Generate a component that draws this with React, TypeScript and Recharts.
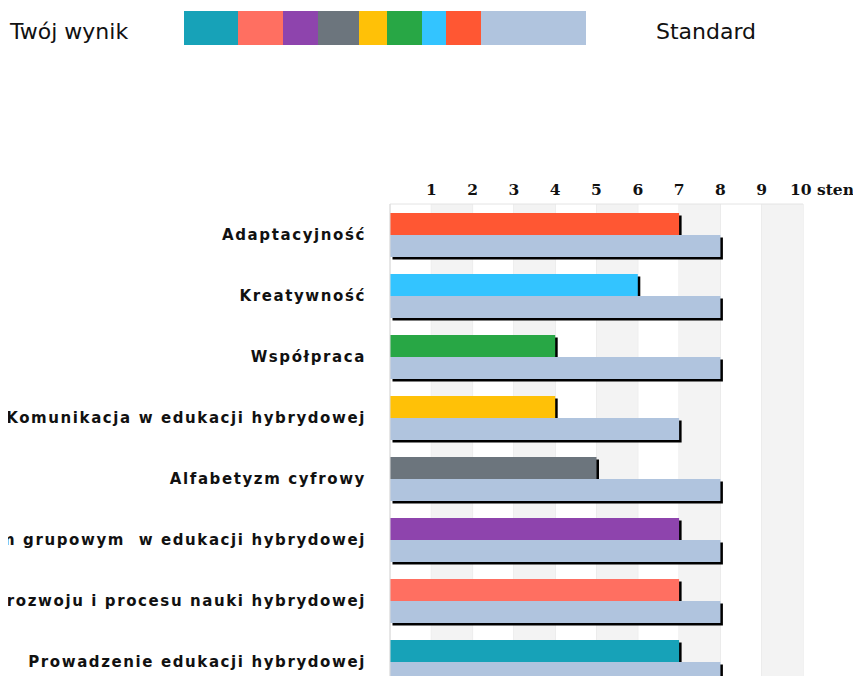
import { BarChart, Bar, XAxis, YAxis, CartesianGrid, ReferenceArea, Cell } from 'recharts';

const categories = [
  'Adaptacyjność',
  'Kreatywność',
  'Współpraca',
  'Komunikacja w edukacji hybrydowej',
  'Alfabetyzm cyfrowy',
  'Zarządzanie procesem grupowym  w edukacji hybrydowej',
  'Wspieranie rozwoju i procesu nauki hybrydowej',
  'Prowadzenie edukacji hybrydowej'
];
const wynik = [7, 6, 4, 4, 5, 7, 7, 7];
const standard = [8, 8, 8, 7, 8, 8, 8, 8];
const tickValues = [1, 2, 3, 4, 5, 6, 7, 8, 9, 10];
const tickLabels = ['1', '2', '3', '4', '5', '6', '7', '8', '9', '10 sten'];
const shadedBands = [[1, 2], [3, 4], [5, 6], [7, 8], [9, 10]];

const barColors = ['#ff5733', '#33c4ff', '#28a745', '#ffc107', '#6c757d', '#8e44ad', '#ff6f61', '#17a2b8'];
const standardColor = '#b0c4de';

const data = categories.map((name, i) => ({ name, wynik: wynik[i], standard: standard[i] }));

// legend strip: colours bottom-to-top, then standard
const legendSwatches = [
  { color: '#17a2b8', w: 54 },
  { color: '#ff6f61', w: 45 },
  { color: '#8e44ad', w: 35 },
  { color: '#6c757d', w: 41 },
  { color: '#ffc107', w: 28 },
  { color: '#28a745', w: 35 },
  { color: '#33c4ff', w: 24 },
  { color: '#ff5733', w: 35 },
  { color: standardColor, w: 105 }
];

const ShadowBar = (props: any) => {
  const { x, y, width, height, fill } = props;
  if (!width || width <= 0) return null;
  return (
    <g>
      <rect x={x + 2.5} y={y + 2.5} width={width} height={height} fill="#000" />
      <rect x={x} y={y} width={width} height={height} fill={fill} />
    </g>
  );
};

const TopTick = (props: any) => {
  const { x, y, payload } = props;
  const label = tickLabels[tickValues.indexOf(payload.value)];
  const isLast = payload.value === 10;
  return (
    <text
      x={isLast ? x - 13 : x}
      y={y}
      dy={-1}
      textAnchor={isLast ? 'start' : 'middle'}
      fontFamily="DejaVu Serif"
      fontWeight="bold"
      fontSize={15.5}
      fill="#111"
    >
      {label}
    </text>
  );
};

const CategoryTick = (props: any) => {
  const { y, payload } = props;
  return (
    <text
      x={358}
      y={y}
      dy="0.36em"
      textAnchor="end"
      fontFamily="DejaVu Sans"
      fontWeight="bold"
      fontSize={15}
      letterSpacing={1.6}
      fill="#111"
      style={{ whiteSpace: 'pre' }}
    >
      {payload.value}
    </text>
  );
};

const App = () => {
  return (
    <div style={{ position: 'relative', width: 853, height: 668, overflow: 'hidden' }}>
      <div
        style={{
          position: 'absolute',
          left: 0,
          top: 0,
          height: 40,
          display: 'flex',
          alignItems: 'center',
          fontFamily: 'DejaVu Sans',
          fontSize: 22,
          color: '#111'
        }}
      >
        <span style={{ marginLeft: 2, width: 174, position: 'relative', top: 3 }}>Twój wynik</span>
        <div style={{ display: 'flex', height: 34 }}>
          {legendSwatches.map((s, i) => (
            <div key={i} style={{ width: s.w, height: 34, background: s.color }} />
          ))}
        </div>
        <span style={{ marginLeft: 70, position: 'relative', top: 3 }}>Standard</span>
      </div>
      <BarChart
        width={853}
        height={700}
        data={data}
        layout="vertical"
        margin={{ top: 166, right: 58, bottom: 16, left: 0 }}
        barSize={22}
        barGap={0}
        style={{ overflow: 'visible' }}
      >
        {shadedBands.map(([a, b]) => (
          <ReferenceArea key={a} x1={a} x2={b} fill="#f3f3f3" fillOpacity={1} stroke="none" />
        ))}
        <CartesianGrid horizontal={false} stroke="#e4e4e4" />
        <XAxis
          type="number"
          orientation="top"
          domain={[0, 10]}
          ticks={tickValues}
          height={30}
          tickLine={false}
          axisLine={{ stroke: '#e4e4e4' }}
          tick={<TopTick />}
          interval={0}
        />
        <YAxis
          type="category"
          dataKey="name"
          width={382}
          tickLine={false}
          axisLine={{ stroke: '#dcdcdc' }}
          tick={<CategoryTick />}
          interval={0}
        />
        <Bar dataKey="wynik" shape={<ShadowBar />} isAnimationActive={false}>
          {data.map((_, i) => (
            <Cell key={i} fill={barColors[i]} />
          ))}
        </Bar>
        <Bar dataKey="standard" fill={standardColor} shape={<ShadowBar />} isAnimationActive={false} />
      </BarChart>
    </div>
  );
};

export default App;
